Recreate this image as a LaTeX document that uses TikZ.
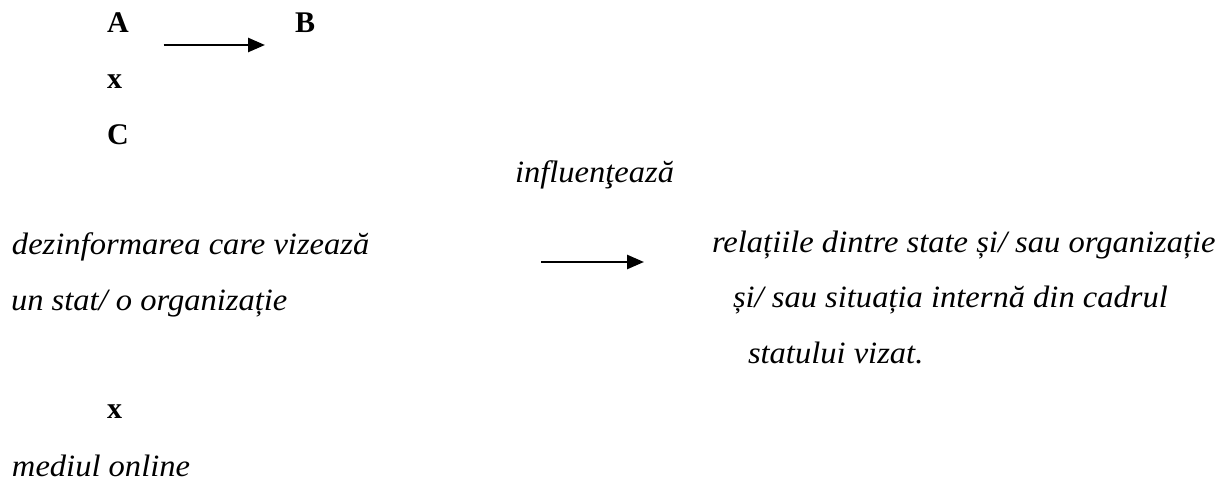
\documentclass[tikz,border=0pt]{standalone}
\usepackage{fontspec}
\setmainfont{Liberation Serif}
\newfontfamily\wideit[FakeStretch=1.05]{Liberation Serif}
\usetikzlibrary{arrows.meta}
\begin{document}
\begin{tikzpicture}[x=1pt,y=-1pt,
  every node/.style={inner sep=0pt,outer sep=0pt},
  bl/.style={anchor=base west,font=\fontsize{30}{33}\selectfont\bfseries},
  it/.style={anchor=base west,font=\wideit\fontsize{31}{34}\selectfont\itshape},
  arr/.style={line width=2.6pt,-{Triangle[length=17pt,width=14pt]}}]
\useasboundingbox (0,0) rectangle (1227,481);
\node[bl] (A) at (107,33) {A};
\node[bl] (B) at (295,33) {B};
\node[bl] (x1) at (107,89) {x};
\node[bl] (C) at (107,145) {C};
\node[it] (inf) at (515,183) {influenţează};
\node[it] (dez) at (12,255) {dezinformarea care vizează};
\node[it] (un) at (11,310) {un stat/ o organizație};
\node[bl] (x2) at (107,418) {x};
\node[it] (med) at (12,476) {mediul online};
\node[it] (rel) at (712,253) {relațiile dintre state și/ sau organizație};
\node[it] (si) at (733,308) {și/ sau situația internă din cadrul};
\node[it] (st) at (748,363) {statului vizat.};
\draw[arr,shorten <=35pt,shorten >=30pt] ([yshift=-12pt]A.base east) -- ([yshift=-12pt]B.base west);
\draw[arr,shorten <=172pt,shorten >=68pt] ([yshift=-7pt]dez.base east) -- ([yshift=-7pt]dez.base east -| rel.west);
\end{tikzpicture}
\end{document}
